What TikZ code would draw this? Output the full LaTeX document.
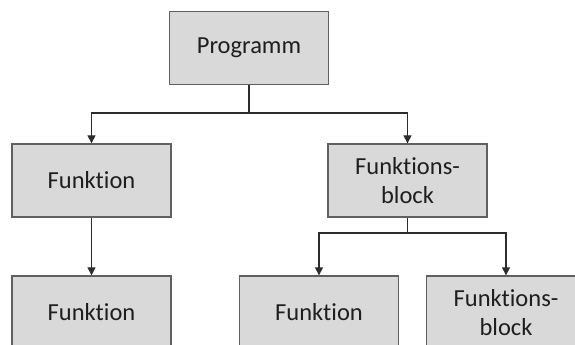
\documentclass[tikz,border=0pt]{standalone}
\usepackage{fontspec}
\setmainfont[Ligatures=NoCommon]{Carlito}
\usetikzlibrary{arrows.meta}
\definecolor{boxfill}{RGB}{217,217,217}
\definecolor{boxline}{RGB}{96,96,96}
\definecolor{wire}{RGB}{45,45,45}
\definecolor{label}{RGB}{30,30,30}
\begin{document}
\begin{tikzpicture}[x=1pt,y=-1pt,
  box/.style={draw=boxline, fill=boxfill, line width=1.3pt,
    minimum width=159pt, minimum height=73pt, inner sep=0pt,
    align=center, text=label, font=\fontsize{24.5}{29}\selectfont},
  link/.style={draw=wire, line width=1.1pt,
    -{Triangle[width=8pt,length=8pt]}}]
\useasboundingbox (0,0) rectangle (575,345);
\clip (0,0) rectangle (575,345);

% tree of program parts
\node[box] (prog) at (249,48)    {Programm};
\node[box] (fa)   at (91.5,180.5) {Funktion};
\node[box] (fb)   at (407.5,180.5) {Funktions-\\block};
\node[box] (fc)   at (91.5,312.5) {Funktion};
\node[box] (fd)   at (319,312.5)  {Funktion};
\node[box] (fe)   at (506,312.5)  {Funktions-\\block};

% branch points
\coordinate (j1) at (249,113);
\coordinate (j2) at (407.5,233);

\draw[link] (prog.south) |- (j1) -| (fa.north);
\draw[link] (j1) -| (fb.north);
\draw[link] (fa.south) -- (fc.north);
\draw[link] (fb.south) |- (j2) -| (fd.north);
\draw[link] (j2) -| (fe.north);
\end{tikzpicture}
\end{document}
